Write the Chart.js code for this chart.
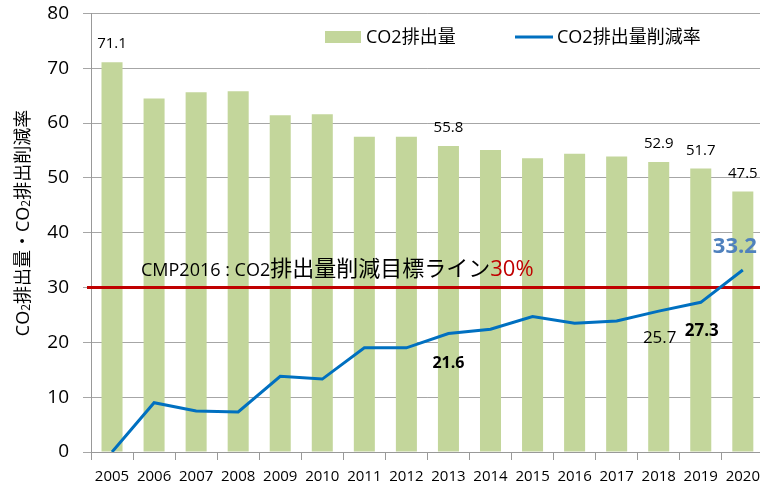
<!DOCTYPE html>
<html>
<head>
<meta charset="utf-8">
<script src="https://cdn.jsdelivr.net/npm/chart.js@4/dist/chart.umd.min.js"></script>
<style>
  html, body { margin: 0; padding: 0; background: #fff; overflow: hidden; }
  #wrap { position: relative; width: 760px; height: 481px; overflow: hidden; }
  #c { position: absolute; left: 0; top: -12px; }
</style>
</head>
<body>
<div id="wrap"><canvas id="c" width="768" height="493"></canvas></div>
<script>
const years = ['2005','2006','2007','2008','2009','2010','2011','2012','2013','2014','2015','2016','2017','2018','2019','2020'];
const emissions = [71.1, 64.5, 65.6, 65.8, 61.4, 61.6, 57.5, 57.5, 55.8, 55.1, 53.6, 54.4, 53.9, 52.9, 51.7, 47.5];
const reductionRate = [0, 9.0, 7.5, 7.3, 13.8, 13.3, 19.0, 19.0, 21.6, 22.4, 24.7, 23.5, 23.9, 25.7, 27.3, 33.2];
const yTicks = [0, 10, 20, 30, 40, 50, 60, 70, 80];
const targetRate = 30;
const barLabelIdx = [0, 8, 13, 14, 15];

const FONT = "'Open Sans', 'Noto Sans CJK JP', sans-serif";
const GREEN = '#C3D69B';
const BLUE = '#0070C0';
const RED = '#C00000';
const TOP = 12; // canvas is shifted up by this much

// label styling for the line values
const lineLabels = [
  { i: 8,  bold: true,  size: 16, dx: 0,  dy: 30,  color: '#000' },
  { i: 13, bold: false, size: 17, dx: 1,  dy: 27,  color: '#000' },
  { i: 14, bold: true,  size: 17, dx: 1,  dy: 29,  color: '#000' },
  { i: 15, bold: true,  size: 22, dx: -8, dy: -23, color: '#4F81BD' }
];

function drawSegs(ctx, segs, x, y) {
  segs.forEach(s => {
    ctx.font = (s.bold ? 'bold ' : '') + s.size + 'px ' + FONT;
    ctx.fillStyle = s.color || '#000';
    ctx.fillText(s.t, x, y + (s.dy || 0));
    x += ctx.measureText(s.t).width;
  });
  return x;
}
function segsWidth(ctx, segs) {
  let w = 0;
  segs.forEach(s => {
    ctx.font = (s.bold ? 'bold ' : '') + s.size + 'px ' + FONT;
    w += ctx.measureText(s.t).width;
  });
  return w;
}

const extras = {
  id: 'extras',
  afterDatasetDraw(chart, args) {
    if (args.index !== 1) return;
    // target line over the bars
    const ctx = chart.ctx, area = chart.chartArea;
    const y = chart.scales.y.getPixelForValue(targetRate);
    ctx.save();
    ctx.strokeStyle = RED;
    ctx.lineWidth = 3;
    ctx.beginPath();
    ctx.moveTo(area.left - 4, y);
    ctx.lineTo(chart.width, y);
    ctx.stroke();
    ctx.restore();
  },
  afterDraw(chart) {
    const ctx = chart.ctx;
    ctx.save();
    ctx.textBaseline = 'middle';

    // bar value labels
    const bars = chart.getDatasetMeta(1).data;
    ctx.textAlign = 'center';
    ctx.font = '15px ' + FONT;
    ctx.fillStyle = '#000';
    barLabelIdx.forEach(i => {
      ctx.fillText(emissions[i].toFixed(1), bars[i].x, bars[i].y - 18);
    });

    // line value labels
    const pts = chart.getDatasetMeta(0).data;
    lineLabels.forEach(l => {
      ctx.font = (l.bold ? 'bold ' : '') + l.size + 'px ' + FONT;
      ctx.fillStyle = l.color;
      ctx.fillText(reductionRate[l.i].toFixed(1), pts[l.i].x + l.dx, pts[l.i].y + l.dy);
    });

    ctx.translate(0, TOP);

    // legend
    ctx.textAlign = 'left';
    ctx.fillStyle = GREEN;
    ctx.fillRect(325, 31, 36, 12);
    ctx.font = '18px ' + FONT;
    ctx.fillStyle = '#000';
    ctx.fillText('CO2排出量', 366, 38);
    ctx.strokeStyle = BLUE;
    ctx.lineWidth = 3;
    ctx.beginPath();
    ctx.moveTo(515, 37);
    ctx.lineTo(553, 37);
    ctx.stroke();
    ctx.fillText('CO2排出量削減率', 557, 38);

    // target annotation
    ctx.textBaseline = 'alphabetic';
    drawSegs(ctx, [
      { t: 'CMP2016 : CO2', size: 18 },
      { t: '排出量削減目標ライン', size: 22 },
      { t: '30%', size: 22, color: RED }
    ], 141, 276);

    // y axis title with subscripts
    const title = [
      { t: 'CO', size: 18 }, { t: '2', size: 12, dy: 3 }, { t: '排出量・CO', size: 18 },
      { t: '2', size: 12, dy: 3 }, { t: '排出削減率', size: 18 }
    ];
    ctx.textBaseline = 'middle';
    ctx.translate(24, 223);
    ctx.rotate(-Math.PI / 2);
    drawSegs(ctx, title, -segsWidth(ctx, title) / 2, 0);
    ctx.restore();
  }
};

new Chart(document.getElementById('c'), {
  type: 'bar',
  data: {
    labels: years,
    datasets: [
      {
        type: 'line',
        label: 'CO2排出量削減率',
        data: reductionRate,
        borderColor: BLUE,
        borderWidth: 3,
        pointRadius: 0,
        tension: 0,
        order: 1
      },
      {
        type: 'bar',
        label: 'CO2排出量',
        data: emissions,
        backgroundColor: GREEN,
        categoryPercentage: 1,
        barPercentage: 0.5,
        order: 2
      }
    ]
  },
  options: {
    responsive: false,
    animation: false,
    layout: { padding: { left: 0, right: 1, top: 0, bottom: 0 } },
    plugins: { legend: { display: false }, tooltip: { enabled: false } },
    scales: {
      x: {
        grid: { offset: true, drawOnChartArea: false, tickLength: 8, color: '#999' },
        border: { color: '#999' },
        ticks: { font: { family: FONT, size: 15 }, color: '#000', padding: 8, maxRotation: 0, autoSkip: false },
        afterFit(s) { s.height = 29; }
      },
      y: {
        min: 0, max: 80,
        afterBuildTicks(s) { s.ticks = yTicks.map(v => ({ value: v })); },
        ticks: { font: { family: FONT, size: 19 }, color: '#000', padding: 14 },
        grid: { color: '#a6a6a6', tickLength: 8 },
        border: { color: '#999' },
        afterFit(s) { s.width = 91; }
      }
    }
  },
  plugins: [extras]
});
</script>
</body>
</html>
